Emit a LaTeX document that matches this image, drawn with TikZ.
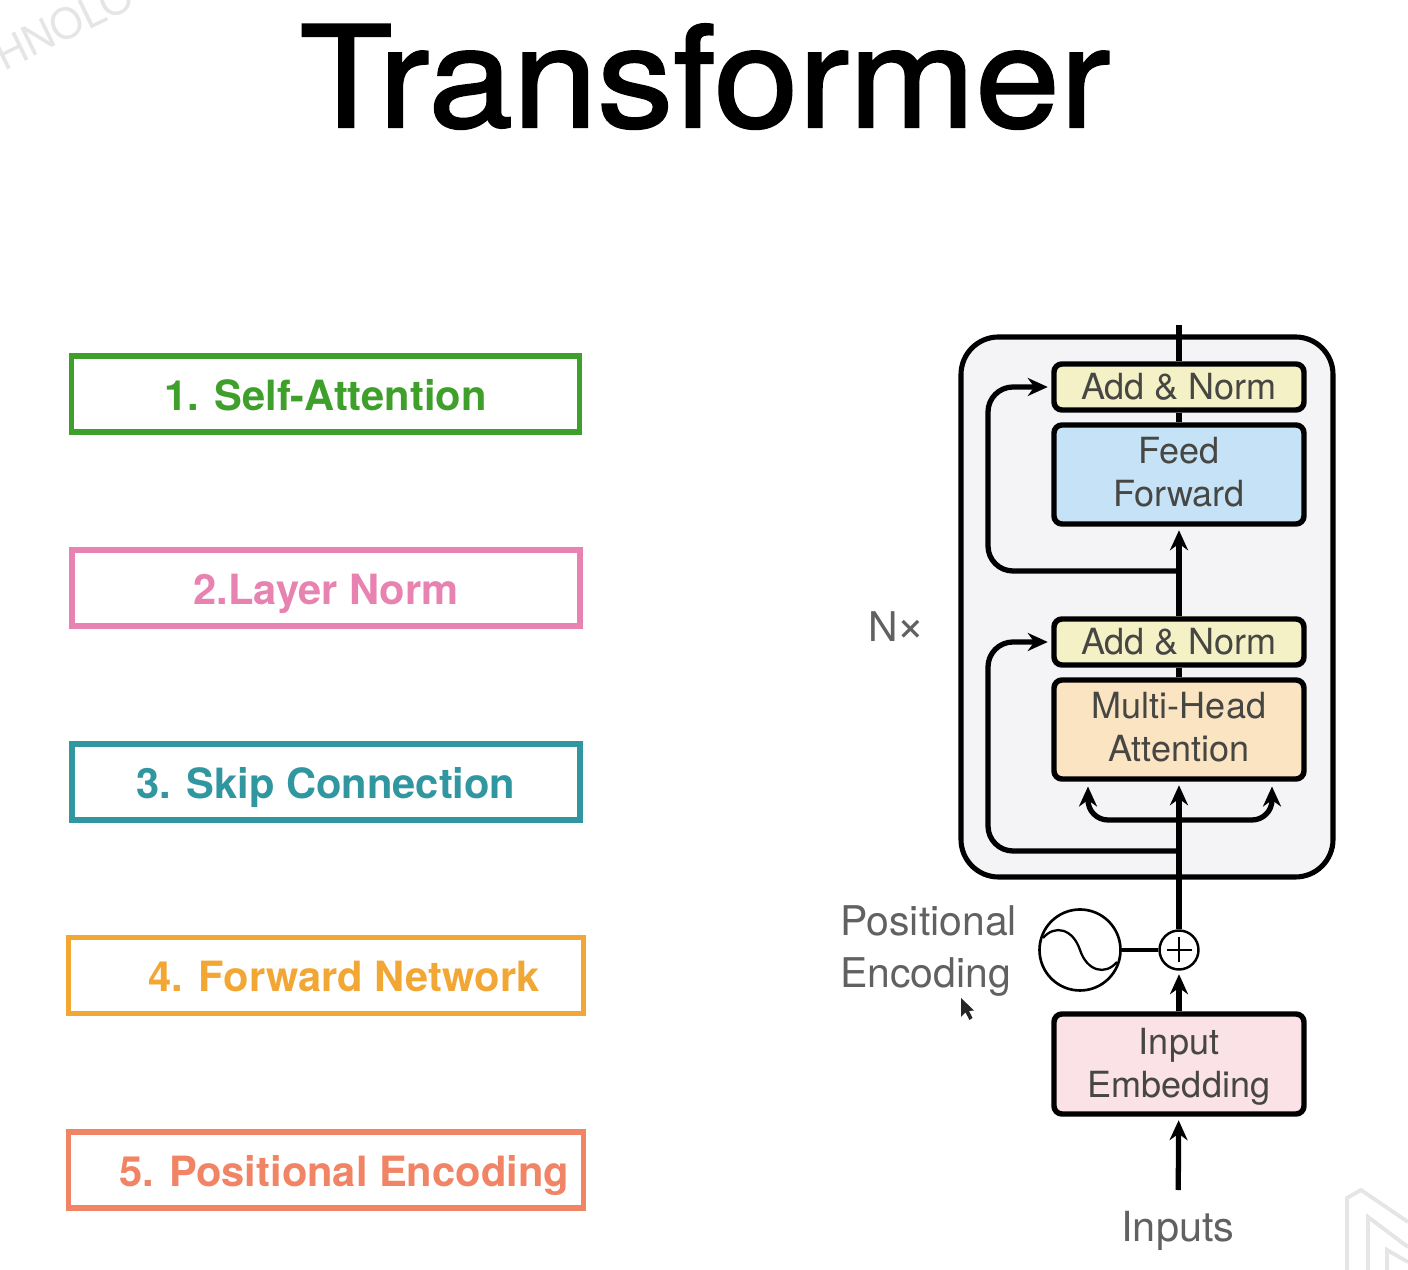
\documentclass[tikz,border=0pt]{standalone}
\usepackage{fontspec}
\setmainfont{TeX Gyre Heros}
\newfontface\titlefont[FakeBold=1.6,FakeStretch=1.08]{TeX Gyre Heros}
\usepackage{tikz}
\usetikzlibrary{arrows.meta,positioning,calc}
\definecolor{skillgreen}{RGB}{62,160,42}
\definecolor{skillpink}{RGB}{232,130,176}
\definecolor{skillteal}{RGB}{48,150,160}
\definecolor{skillorange}{RGB}{242,166,52}
\definecolor{skillsalmon}{RGB}{240,132,100}
\definecolor{normfill}{RGB}{245,241,198}
\definecolor{feedfill}{RGB}{198,226,246}
\definecolor{attnfill}{RGB}{250,228,194}
\definecolor{embedfill}{RGB}{250,226,230}
\definecolor{stackfill}{RGB}{244,244,246}
\definecolor{inktext}{RGB}{70,70,66}

\begin{document}
\begin{tikzpicture}[
          skill/.style={rectangle, draw=#1, line width=3.4pt, fill=white, text=#1, minimum width=10.16cm, minimum height=1.52cm, text height=18.7pt, text depth=0pt, font=\fontsize{23.7}{28}\selectfont\bfseries},
          block/.style={rectangle, draw=black, line width=3.1pt, fill=#1, rounded corners=1.6mm, text=inktext, minimum width=5cm, align=center, font=\fontsize{20.5}{24.5}\selectfont},
          side/.style={text=black!62, inner sep=0pt, font=\fontsize{23.3}{29.6}\selectfont},
          flow/.style={line width=3pt, black},
          tip/.style={-{Stealth[length=4mm,width=3.6mm]}, shorten >=2pt},
          faint/.style={line width=2.2pt, black!10}
      ]
          \clip (0,0) rectangle (28.16,25.4);

          % marks of the slide
          \node[rotate=26, text=black!10, font=\fontsize{24}{28}\selectfont] (mark) at (1.28,24.9) {HNOLO};
          \draw[faint] (26.94,0) -- (26.94,1.44) -- (27.22,1.6) -- (28.16,0.96);
          \draw[faint] (27.36,0) -- (27.36,1.06) -- (28.16,0.46);
          \draw[faint] (27.74,0) -- (27.74,0.4) -- (28.16,0.16);

          \node[inner sep=0pt, anchor=base, font=\fontsize{80}{90}\titlefont] (title) at (14.1,22.86) {Transformer};

          % list on the left
          \node[skill=skillgreen] (one) at (6.51,17.52) {1. Self-Attention};
          \node[skill=skillpink] (two) at (6.52,13.64) {2.Layer Norm};
          \node[skill=skillteal] (three) at (6.52,9.76) {3. Skip Connection};
          \node[skill=skillorange, minimum width=10.3cm] (four) at (6.52,5.89) {\hspace*{0.72cm}4. Forward Network};
          \node[skill=skillsalmon, minimum width=10.3cm] (five) at (6.52,2.0) {\hspace*{0.72cm}5. Positional Encoding};

          % encoder
          \node[rectangle, draw=black, line width=2.9pt, fill=stackfill, rounded corners=7.5mm, minimum width=7.44cm, minimum height=10.8cm] (stack) at (22.94,13.26) {};
          \node[block=normfill, minimum height=0.92cm] (normtop) at (23.58,17.66) {Add \& Norm};
          \node[block=feedfill, minimum height=1.98cm, text depth=3.5pt] (feed) at (23.58,15.91) {Feed\\Forward};
          \node[block=normfill, minimum height=0.92cm] (normlow) at (23.58,12.56) {Add \& Norm};
          \node[block=attnfill, minimum height=1.98cm, text depth=3pt] (attn) at (23.58,10.81) {Multi-Head\\Attention};
          \node[block=embedfill, minimum height=2cm, text depth=1.6pt] (embed) at (23.58,4.12) {Input\\Embedding};
          \node[circle, draw=black, line width=1.4pt, minimum size=0.78cm, inner sep=0pt] (plus) at (23.58,6.4) {};
          \node[circle, draw=black, line width=1.5pt, minimum size=1.62cm, inner sep=0pt] (wave) at (21.6,6.4) {};
          \node[side, font=\fontsize{23.6}{29.6}\selectfont] (inputs) at (23.56,0.78) {Inputs};
          \node[side] (times) at (17.93,12.86) {N\kern-1pt{\fontsize{28}{30}\selectfont×}};
          \node[side, anchor=west, align=left] (position) at (16.8,6.38) {Positional\\Encoding};

          \coordinate (out) at (23.58,18.9);
          \coordinate (joinup) at (23.58,13.98);
          \coordinate (cornerup) at (19.76,13.98);
          \coordinate (joinlow) at (23.58,8.38);
          \coordinate (cornerlow) at (19.76,8.38);
          \coordinate (fork) at (23.58,9.0);
          \coordinate (headleft) at (21.76,9.74);
          \coordinate (headright) at (25.44,9.74);

          \draw[flow] (normtop) -- (out);
          \draw[flow] (feed) -- (normtop);
          \draw[flow] (attn) -- (normlow);
          \draw[flow, tip] (normlow) -- (feed);
          \draw[flow, tip] (plus) -- (attn);
          \draw[flow, tip] (embed) -- (plus);
          \draw[flow, tip, shorten <=0.42cm] (inputs) -- (embed);
          \draw[flow, tip, rounded corners=5mm] (joinup) -- (cornerup) |- (normtop);
          \draw[flow, tip, rounded corners=5mm] (joinlow) -- (cornerlow) |- (normlow);
          \draw[flow, tip, rounded corners=4mm] (fork) -| (headleft);
          \draw[flow, tip, rounded corners=4mm] (fork) -| (headright);
          \draw[line width=2pt] (wave) -- (plus);

          % plus sign and wave
          \draw[line width=1.1pt] ($(plus)+(-0.25,0)$) -- ($(plus)+(0.25,0)$);
          \draw[line width=1.1pt] ($(plus)+(0,-0.25)$) -- ($(plus)+(0,0.25)$);
          \draw[line width=1.3pt] ($(wave)+(-0.74,0.24)$) .. controls ($(wave)+(-0.5,0.52)$) and ($(wave)+(-0.14,0.42)$) .. (wave.center) .. controls ($(wave)+(0.14,-0.42)$) and ($(wave)+(0.5,-0.52)$) .. ($(wave)+(0.74,-0.24)$);

          % pointer
          \fill[black!85] (19.22,5.44) -- (19.22,5.06) -- (19.31,5.15) -- (19.39,5.0) -- (19.45,5.04) -- (19.38,5.18) -- (19.48,5.19) -- cycle;
      \end{tikzpicture}
\end{document}
